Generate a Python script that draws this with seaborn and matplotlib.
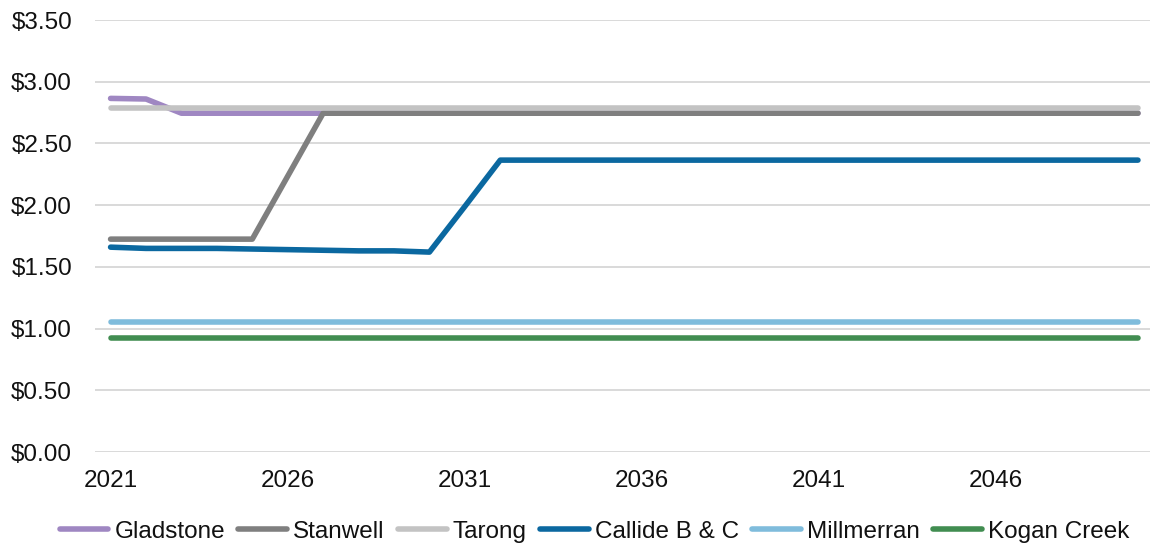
import matplotlib
matplotlib.use("Agg")
import matplotlib.pyplot as plt
import seaborn as sns
import pandas as pd
from matplotlib.ticker import FuncFormatter, MultipleLocator

years = list(range(2021, 2051))

gladstone = [2.865, 2.86] + [2.745] * 28
stanwell = [1.725] * 5 + [2.235] + [2.745] * 24
tarong = [2.785] * 30
callide = [1.66, 1.65, 1.65, 1.65, 1.645, 1.64, 1.635, 1.63, 1.63, 1.62, 1.99] + [2.365] * 19
millmerran = [1.05] * 30
kogan_creek = [0.925] * 30

series_names = ["Gladstone", "Stanwell", "Tarong", "Callide B & C", "Millmerran", "Kogan Creek"]
series_values = [gladstone, stanwell, tarong, callide, millmerran, kogan_creek]
colors = ["#9f87c2", "#7f7f7f", "#c3c3c3", "#0b68a0", "#7fbcdc", "#418d51"]

df = pd.concat(
    [pd.DataFrame({"Year": years, "Price": vals, "Station": name})
     for name, vals in zip(series_names, series_values)],
    ignore_index=True,
)

sns.set_theme(style="white")
plt.rcParams["font.family"] = ["Liberation Sans", "DejaVu Sans"]

fig = plt.figure(figsize=(11.5, 5.48), dpi=100)
ax = fig.add_axes([0.0826, 0.175, 0.9174, 0.7885])

sns.lineplot(
    data=df, x="Year", y="Price", hue="Station", hue_order=series_names,
    palette=colors, linewidth=4.0, ax=ax, legend=False,
    solid_capstyle="round", solid_joinstyle="round",
)

ax.set_ylim(0, 3.5)
ax.set_xlim(2020.56, 2050.34)
ax.yaxis.set_major_locator(MultipleLocator(0.5))
ax.yaxis.set_major_formatter(FuncFormatter(lambda v, p: f"${v:.2f}"))
ax.set_xticks(years[::5])
ax.set_xticklabels([str(y) for y in years[::5]])
ax.grid(axis="y", color="#d9d9d9", linewidth=1.4)
ax.grid(axis="x", visible=False)
ax.set_axisbelow(True)
for s in ax.spines.values():
    s.set_visible(False)
ax.tick_params(axis="both", length=0, labelsize=17.5, colors="#111111")
ax.tick_params(axis="y", pad=16.5)
ax.tick_params(axis="x", pad=13)
ax.set_xlabel("")
ax.set_ylabel("")

handles = [plt.Line2D([], [], color=c, linewidth=4.0, solid_capstyle="round") for c in colors]
fig.legend(
    handles, series_names, loc="lower center", bbox_to_anchor=(0.517, -0.03),
    ncol=6, frameon=False, fontsize=17.5, handlelength=2.0, handletextpad=0.25,
    columnspacing=0.55, labelcolor="#111111",
)

fig.savefig("out.png", dpi=100, facecolor="white")
